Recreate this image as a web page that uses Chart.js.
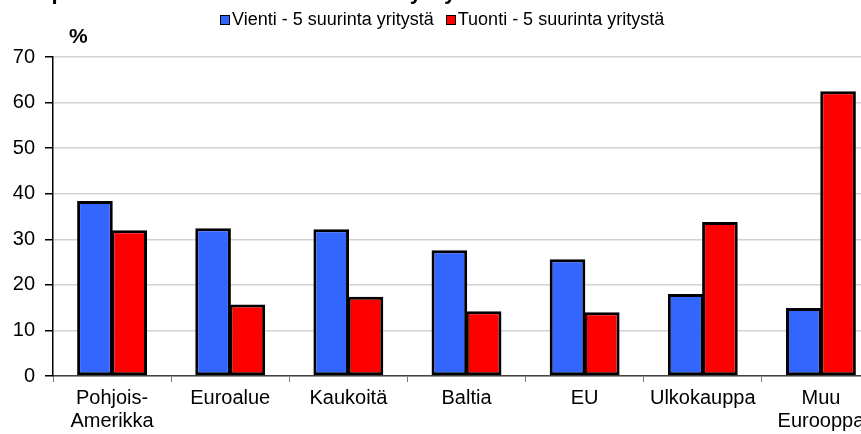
<!DOCTYPE html>
<html>
<head>
<meta charset="utf-8">
<script src="https://cdn.jsdelivr.net/npm/chart.js@4"></script>
<style>
  html, body { margin: 0; padding: 0; background: #fff; overflow: hidden; }
  body { width: 861px; height: 434px; position: relative; font-family: Arial, "Liberation Sans", sans-serif; }
  #wrap { position: absolute; left: 0; top: 0; width: 880px; height: 434px; }
  #title { position: absolute; left: 10px; top: -21px; font-weight: bold; font-size: 22px; white-space: nowrap; }
  #unit { position: absolute; left: 69px; top: 24px; font-weight: bold; font-size: 21px; }
  #legend { position: absolute; left: 220px; top: 9px; font-size: 18px; white-space: nowrap; display: flex; align-items: center; }
  .item { display: flex; align-items: center; margin-right: 12px; }
  .box { width: 8px; height: 8px; border: 1.5px solid #000; margin-right: 2px; }
</style>
</head>
<body>
<div id="wrap"><canvas id="chart" width="880" height="434"></canvas></div>
<div id="title">Kaupan osuudet alueittain: 5 suurinta yritystä</div>
<div id="unit">%</div>
<div id="legend"></div>

<script>
const categories = [["Pohjois-", "Amerikka"], "Euroalue", "Kaukoitä", "Baltia", "EU", "Ulkokauppa", ["Muu", "Eurooppa"]];
const seriesNames = ["Vienti - 5 suurinta yritystä", "Tuonti - 5 suurinta yritystä"];
const vienti = [38.4, 32.4, 32.2, 27.6, 25.6, 18.0, 14.9];
const tuonti = [32.0, 15.7, 17.4, 14.2, 14.0, 33.8, 62.5];
const yTicks = [0, 10, 20, 30, 40, 50, 60, 70];
const colors = ["#3366ff", "#ff0000"];

// legend in html
const legend = document.getElementById("legend");
seriesNames.forEach((name, i) => {
  const item = document.createElement("div");
  item.className = "item";
  item.innerHTML = `<span class="box" style="background:${colors[i]}"></span>${name}`;
  legend.appendChild(item);
});

const font = { family: "Arial, 'Liberation Sans', sans-serif", size: 20 };

new Chart(document.getElementById("chart"), {
  type: "bar",
  data: {
    labels: categories,
    datasets: [
      { label: seriesNames[0], data: vienti, backgroundColor: colors[0] },
      { label: seriesNames[1], data: tuonti, backgroundColor: colors[1] },
    ].map((d) => ({
      ...d,
      borderColor: "#000",
      borderWidth: 3,
      borderSkipped: false,
      categoryPercentage: 0.58,
      barPercentage: 1.04,
    })),
  },
  options: {
    responsive: false,
    animation: false,
    layout: { padding: { top: 57, left: 0, right: 0, bottom: 0 } },
    plugins: { legend: { display: false }, tooltip: { enabled: false } },
    scales: {
      x: {
        grid: { drawOnChartArea: false, drawTicks: true, tickLength: 6, tickColor: "#777", lineWidth: 1 },
        border: { color: "#444", width: 1.5 },
        ticks: { color: "#000", font: { ...font, lineHeight: 1.15 }, padding: 5, maxRotation: 0, autoSkip: false },
        afterFit: (s) => { s.height = 58; },
      },
      y: {
        min: 0,
        max: 70,
        afterBuildTicks: (s) => { s.ticks = yTicks.map((v) => ({ value: v })); },
        grid: { color: "#d2d2d2", lineWidth: 1.5, tickLength: 8, tickColor: "#000" },
        border: { color: "#000", width: 1.5 },
        ticks: { color: "#000", font, padding: 10 },
        afterFit: (s) => { s.width = 53; },
      },
    },
  },
});
</script>
</body>
</html>
